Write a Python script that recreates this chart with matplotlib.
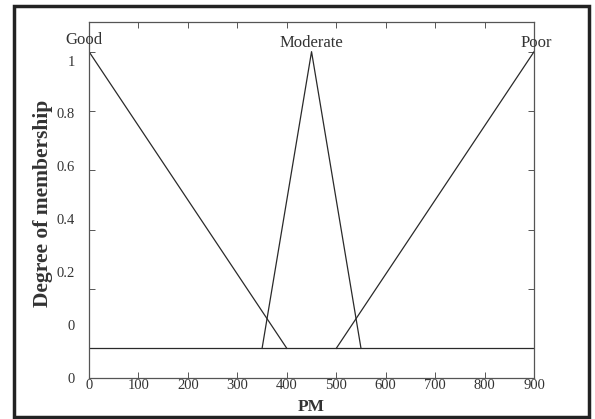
import numpy as np
import matplotlib
matplotlib.use('Agg')
import matplotlib.pyplot as plt
from matplotlib.patches import Rectangle

# Membership functions for PM
pm_good = [0, 400]
mem_good = [1, 0]
pm_moderate = [350, 450, 550]
mem_moderate = [0, 1, 0]
pm_poor = [500, 900]
mem_poor = [0, 1]

set_names = ['Good', 'Moderate', 'Poor']
set_peaks = [0, 450, 900]

x_ticks = [0, 100, 200, 300, 400, 500, 600, 700, 800, 900]
y_tick_labels = ['1', '0.8', '0.6', '0.4', '0.2', '0', '0']

plt.rcParams['font.family'] = ['Liberation Serif', 'DejaVu Serif']
line_color = '#2a2a2a'

fig = plt.figure(figsize=(5.95, 4.19), dpi=100)
ax = fig.add_axes([0.1496, 0.0978, 0.748, 0.8497])

ax.plot(pm_good, mem_good, color=line_color, lw=0.9)
ax.plot(pm_moderate, mem_moderate, color=line_color, lw=0.9)
ax.plot(pm_poor, mem_poor, color=line_color, lw=0.9)
ax.axhline(0, color=line_color, lw=0.9)

ax.set_xlim(0, 900)
ax.set_ylim(-0.1, 1.1)

# Labels above each set
offsets = [-10, 0, 5]
heights = [1.04, 1.03, 1.03]
for name, peak, off, h in zip(set_names, set_peaks, offsets, heights):
    ax.text(peak + off, h, name, ha='center', va='center', fontsize=12,
            color='#333333')

# x ticks
ax.set_xticks(x_ticks)
ax.set_xticklabels([str(v) for v in x_ticks], fontsize=10.5)
ax.tick_params(axis='x', direction='in', top=True, length=4, width=0.7,
               pad=1, colors='#555555', labelcolor='#333333')

# y tick labels sit slightly off the real tick marks in the original
ax.set_yticks(np.linspace(0.97, -0.1, len(y_tick_labels)))
ax.set_yticklabels(y_tick_labels, fontsize=10.5, color='#333333')
ax.tick_params(axis='y', which='major', length=0, pad=10)
ax.set_yticks(np.arange(0, 1.01, 0.2), minor=True)
ax.tick_params(axis='y', which='minor', direction='in', left=True, right=True,
               length=4, width=0.7, colors='#555555')

for s in ax.spines.values():
    s.set_color('#555555')
    s.set_linewidth(0.9)

ax.set_xlabel('PM', fontsize=12.5, fontweight='bold', labelpad=5, color='#333333')
ax.set_ylabel('Degree of membership', fontsize=15.5, fontweight='bold',
              color='#333333')
ax.yaxis.set_label_coords(-0.08, 0.49)

# outer frame around the whole figure
fig.patches.append(Rectangle((0.0235, 0.0048), 0.966, 0.981,
                             transform=fig.transFigure, fill=False,
                             edgecolor='#222222', linewidth=2.5))

fig.savefig('out.png', dpi=100)
